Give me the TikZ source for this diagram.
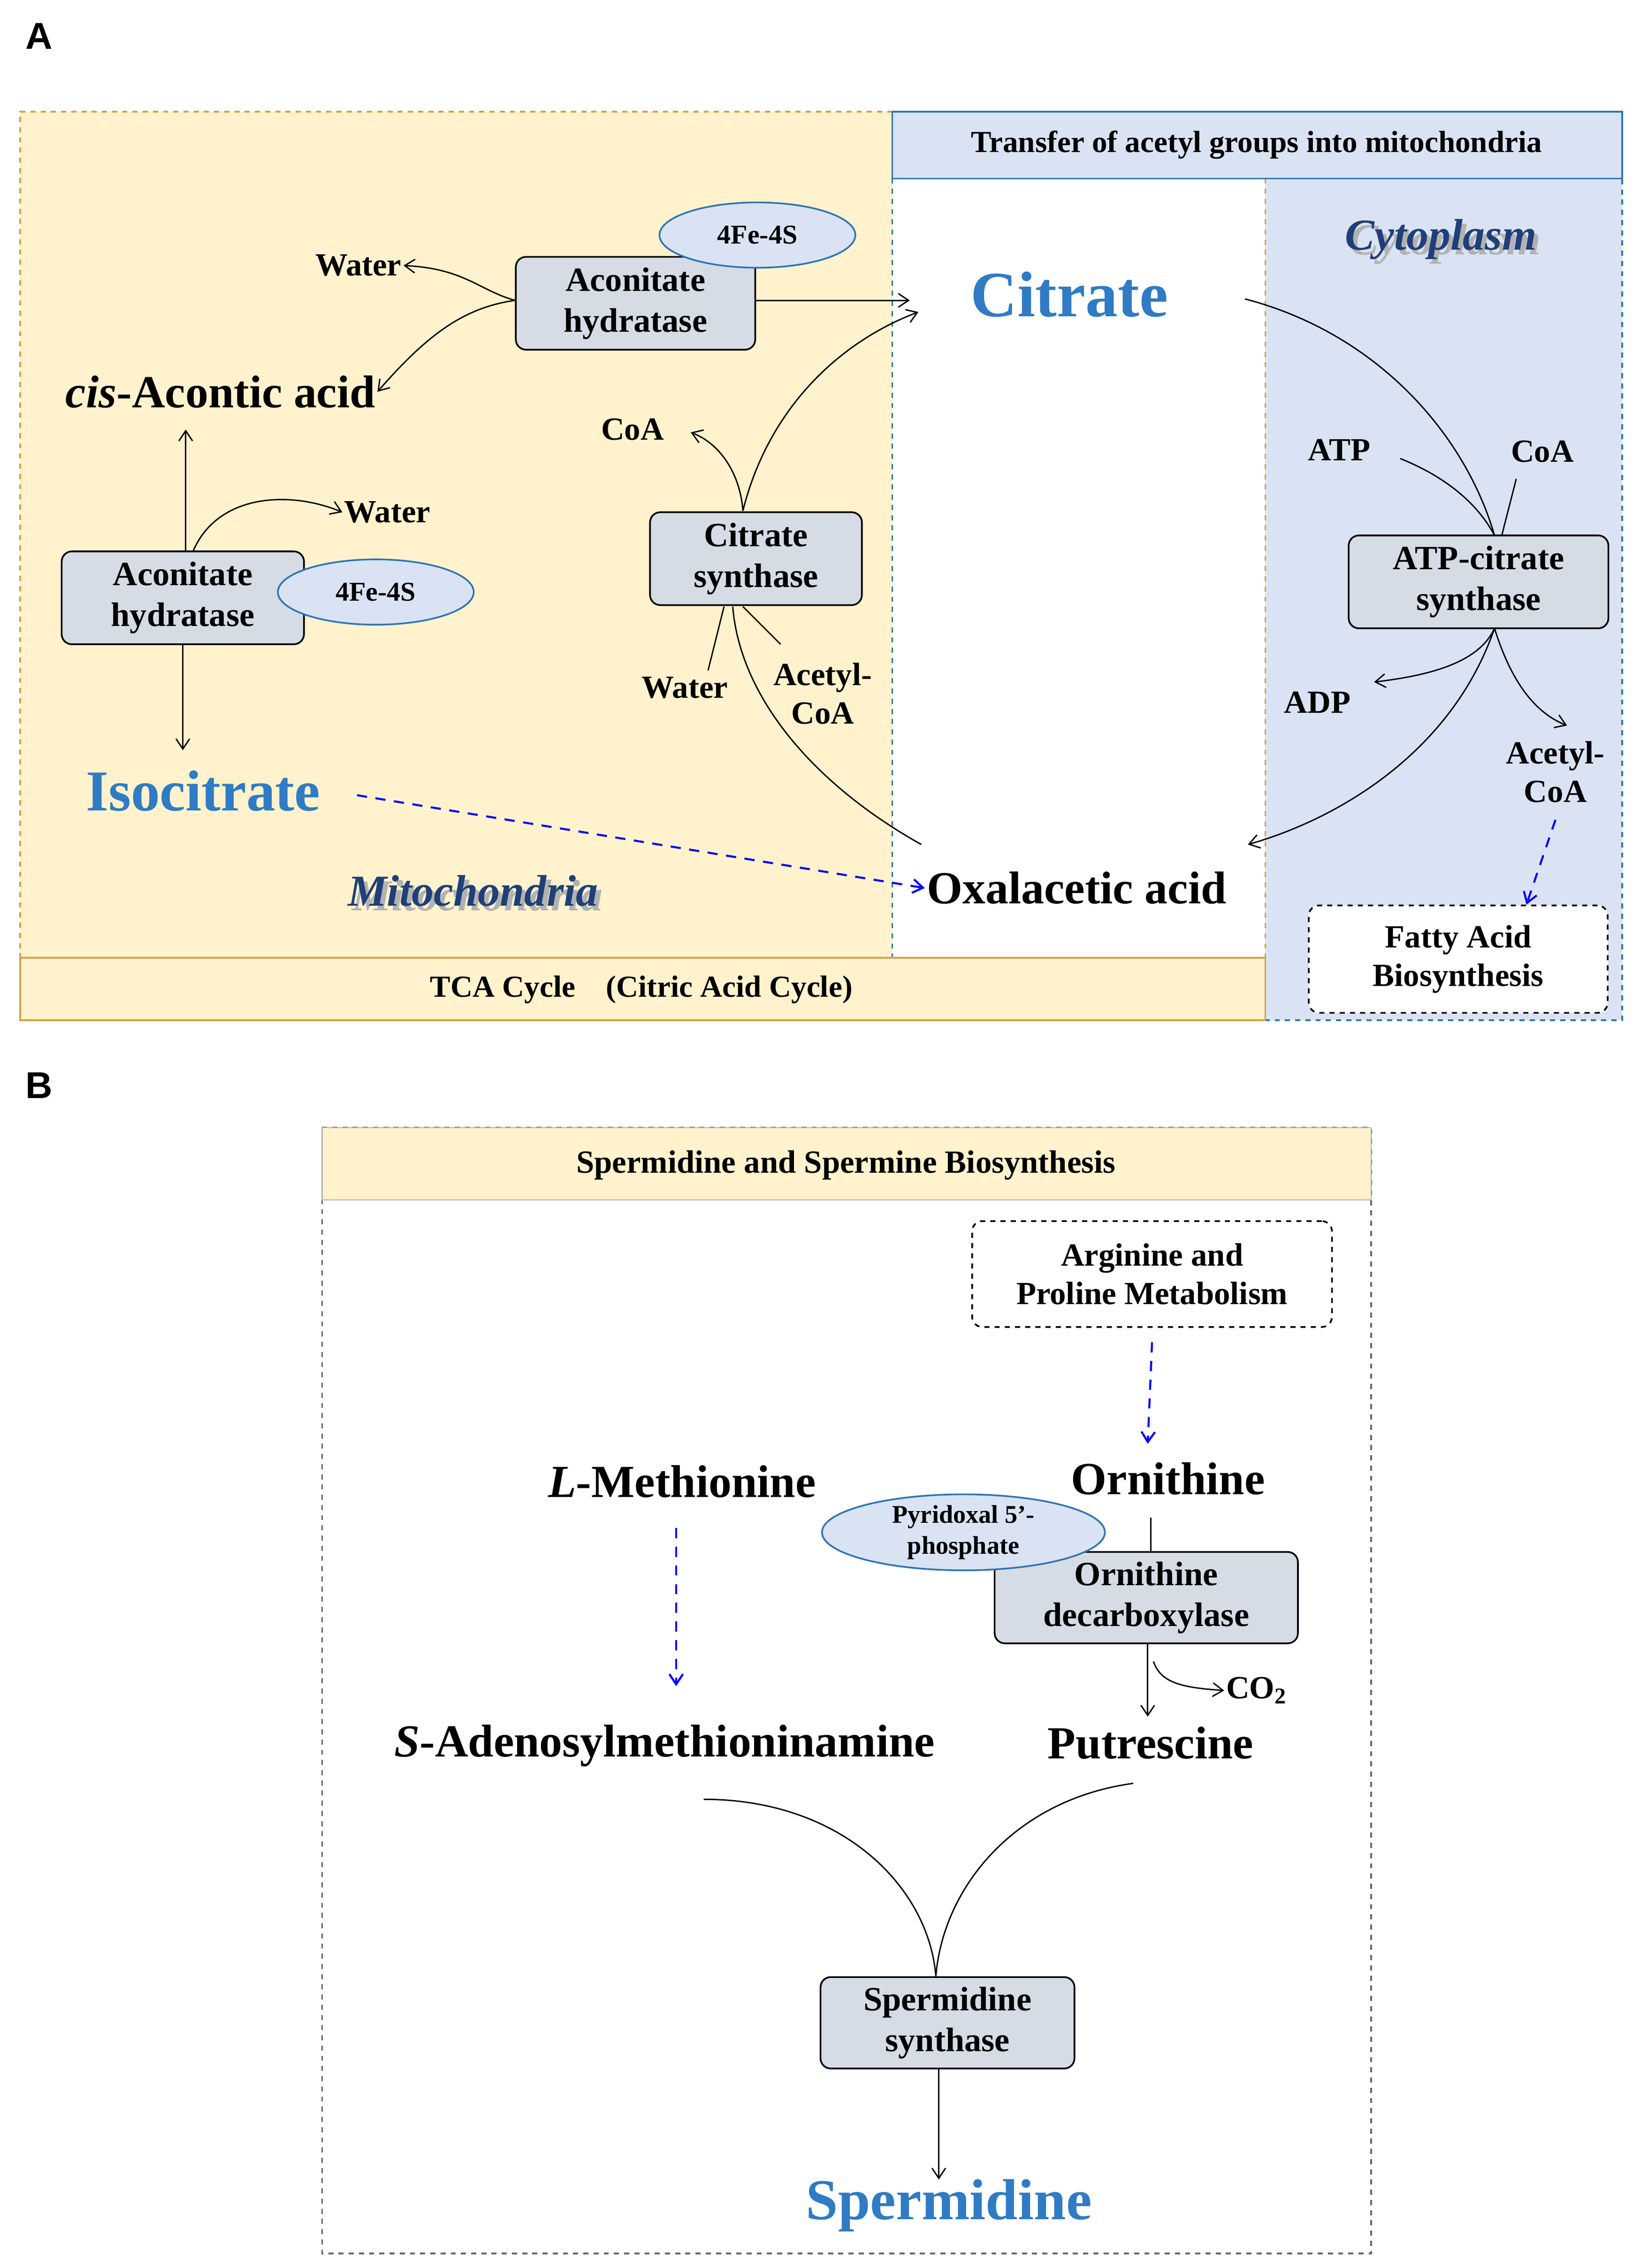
\documentclass[tikz,border=0pt]{standalone}
\usepackage{fontspec}
\setmainfont{Liberation Serif}
\newfontfamily\sansf{Liberation Sans}
\usetikzlibrary{arrows.meta,shapes.geometric}
\definecolor{yel}{HTML}{FFF2CC}
\definecolor{lblue}{HTML}{DAE3F3}
\definecolor{org}{HTML}{D6A040}
\definecolor{bl}{HTML}{2E75B6}
\definecolor{tblue}{HTML}{2F7BC4}
\definecolor{dblue}{HTML}{1F3F78}
\definecolor{boxg}{HTML}{D6DCE5}
\newcommand{\fs}[1]{\fontsize{#1pt}{\dimexpr #1pt*6/5\relax}\selectfont}
\begin{document}
\begin{tikzpicture}[x=0.03cm,y=-0.03cm,
 enz/.style={draw,fill=boxg,rounded corners=6pt,line width=1pt,minimum width=#1*0.03cm,minimum height=64*0.03cm,align=center,font=\fs{20}\bfseries,inner sep=0pt},
 enz/.default=165,
 cof/.style={draw=bl,fill=lblue,ellipse,line width=1pt,minimum width=135*0.03cm,minimum height=45*0.03cm,inner sep=0pt,font=\fs{16}\bfseries},
 lab/.style={font=\fs{19}\bfseries,align=center,inner sep=1pt},
 big/.style={font=\fs{27}\bfseries,inner sep=1pt},
 arr/.style={-{Straight Barb[length=6pt,width=8pt]},line width=0.8pt},
 ln/.style={line width=0.8pt},
 bdash/.style={blue,line width=1.2pt,-{Straight Barb[length=6pt,width=8pt]},dash pattern=on 6pt off 5pt},
 ital/.style={font=\fs{26}\bfseries\itshape,text=dblue}]
\useasboundingbox (0,0) rectangle (1130,1563);
\fill[white] (0,0) rectangle (1130,1563);
% Panel A backgrounds
\node[font=\sansf\fs{22}\bfseries] (A) at (27,25) {A};
\fill[yel] (14,77) rectangle (615,660);
\fill[lblue] (872,123) rectangle (1118,703);
\draw[org,dashed,line width=1pt] (615,77) -- (14,77) -- (14,703);
\draw[org,dashed,line width=1pt] (872,123) -- (872,660);
\draw[bl,dashed,line width=1pt] (615,123) -- (615,703) -- (1118,703) -- (1118,77) -- (615,77);
\draw[org,fill=yel,line width=1pt] (14,660) rectangle (872,703);
\draw[bl,fill=lblue,line width=1pt] (615,77) rectangle (1118,123);
\node[lab,font=\fs{18}\bfseries] (title) at (866,100) {Transfer of acetyl groups into mitochondria};
\node[lab,font=\fs{18}\bfseries] (tca) at (442,682) {TCA Cycle\quad(Citric Acid Cycle)};
% shadows
\node[ital,text=gray!60] at (329,617) {Mitochondria};
\node[ital] (mito) at (326,614) {Mitochondria};
\node[ital,text=gray!60] at (996,168) {Cytoplasm};
\node[ital] (cyto) at (993,165) {Cytoplasm};
% nodes
\node[enz] (ah1) at (438,209) {Aconitate\\hydratase};
\node[cof] (fe1) at (522,162) {4Fe-4S};
\node[font=\fs{38}\bfseries,text=tblue] (cit) at (737,203) {Citrate};
\node[lab] (w1) at (247,183) {Water};
\node[big] (cis) at (152,270) {\textit{cis}-Acontic acid};
\node[enz=167] (ah2) at (126,412) {Aconitate\\hydratase};
\node[cof] (fe2) at (259,408) {4Fe-4S};
\node[lab] (w2) at (267,353) {Water};
\node[font=\fs{34}\bfseries,text=tblue] (iso) at (140,545) {Isocitrate};
\node[big] (oxa) at (742,612) {Oxalacetic acid};
\node[enz=146] (cs) at (521,385) {Citrate\\synthase};
\node[lab] (coa1) at (436,296) {CoA};
\node[lab] (w3) at (472,474) {Water};
\node[lab] (acoa1) at (567,478) {Acetyl-\\CoA};
\node[lab] (atp) at (923,310) {ATP};
\node[lab] (coa2) at (1063,311) {CoA};
\node[enz=179] (acs) at (1019,401) {ATP-citrate\\synthase};
\node[lab] (adp) at (908,484) {ADP};
\node[lab] (acoa2) at (1072,532) {Acetyl-\\CoA};
\node[draw,dashed,rounded corners=6pt,line width=1pt,minimum width=206*0.03cm,minimum height=74*0.03cm,align=center,font=\fs{19}\bfseries,inner sep=0pt,fill=white] (fab) at (1005,661) {Fatty Acid\\Biosynthesis};
% connectors A
\coordinate (citL) at (627,207);
\draw[arr] (ah1.east |- 0,207) -- (citL);
\draw[arr] (ah1.west |- 0,207) .. controls (330,200) and (320,185) .. (w1.east);
\draw[arr] (ah1.west |- 0,207) .. controls (320,212) and (295,230) .. (cis.east);
\draw[arr] (128,380) -- (128,296);
\draw[arr] (133,380) .. controls (150,340) and (200,338) .. (w2.west);
\draw[arr] (126,444) -- (126,517);
\draw[bdash] (246,548) -- (oxa.west);
\coordinate (oxs) at (635,582);
\coordinate (csb) at (505,418);
\coordinate (cst) at (512,352);
\draw[ln] (oxs) .. controls (560,540) and (510,480) .. (csb);
\draw[arr] (cst) .. controls (530,280) and (580,235) .. (633,215);
\draw[arr] (cst) .. controls (510,325) and (495,305) .. (476,298);
\draw[ln] (488,462) -- (499,418);
\draw[ln] (538,444) -- (512,418);
\coordinate (act) at (1030,369);
\draw[ln] (858,206) .. controls (950,230) and (1010,300) .. (act);
\draw[ln] (965,316) .. controls (1000,330) and (1020,350) .. (act);
\draw[ln] (1045,330) -- (1035,369);
\coordinate (acb) at (1030,433);
\draw[arr] (acb) .. controls (1000,520) and (920,565) .. (860,582);
\draw[arr] (acb) .. controls (1020,455) and (990,465) .. (947,470);
\draw[arr] (acb) .. controls (1040,465) and (1055,490) .. (1080,500);
\draw[bdash] (1072,565) -- (fab.north -| 1052,0);
% Panel B
\node[font=\sansf\fs{22}\bfseries] (B) at (27,748) {B};
\draw[gray!80!black,dashed,line width=1pt] (222,777) rectangle (945,1553);
\draw[gray!60,fill=yel,line width=0.6pt] (222,777) rectangle (945,827);
\node[lab] (sst) at (583,803) {Spermidine and Spermine Biosynthesis};
\node[draw,dashed,rounded corners=6pt,line width=1pt,minimum width=248*0.03cm,minimum height=73*0.03cm,align=center,font=\fs{19}\bfseries,inner sep=0pt] (apm) at (794,878) {Arginine and\\Proline Metabolism};
\node[big] (orn) at (805,1019) {Ornithine};
\node[big] (met) at (470,1021) {\textit{L}-Methionine};
\draw[bdash] (apm.south |- 0,925) -- (791,995);
\draw[bdash] (466,1053) -- (466,1162);
\draw[ln] (793,1046) -- (793,1070);
\node[enz=209,minimum height=63*0.03cm] (odc) at (790,1101) {Ornithine\\decarboxylase};
\node[cof,minimum width=195*0.03cm,minimum height=44*0.03cm,font=\fs{15}\bfseries,align=center] (plp) at (664,1056) {Pyridoxal 5'-\\phosphate};
\node[big] (sam) at (458,1203) {\textit{S}-Adenosylmethioninamine};
\node[big] (put) at (793,1201) {Putrescine};
\node[lab] (co2) at (866,1165) {CO\textsubscript{2}};
\draw[arr] (791,1133) -- (791,1183);
\draw[arr] (795,1145) .. controls (800,1160) and (815,1163) .. (co2.west);
\node[enz=175,minimum height=63*0.03cm] (sps) at (653,1394) {Spermidine\\synthase};
\coordinate (spt) at (645,1362);
\draw[ln] (485,1240) .. controls (580,1240) and (640,1300) .. (spt);
\draw[ln] (781,1229) .. controls (700,1240) and (650,1300) .. (spt);
\node[font=\fs{34}\bfseries,text=tblue] (spd) at (654,1520) {Spermidine};
\draw[arr] (647,1426) -- (647,1502);
\end{tikzpicture}
\end{document}
